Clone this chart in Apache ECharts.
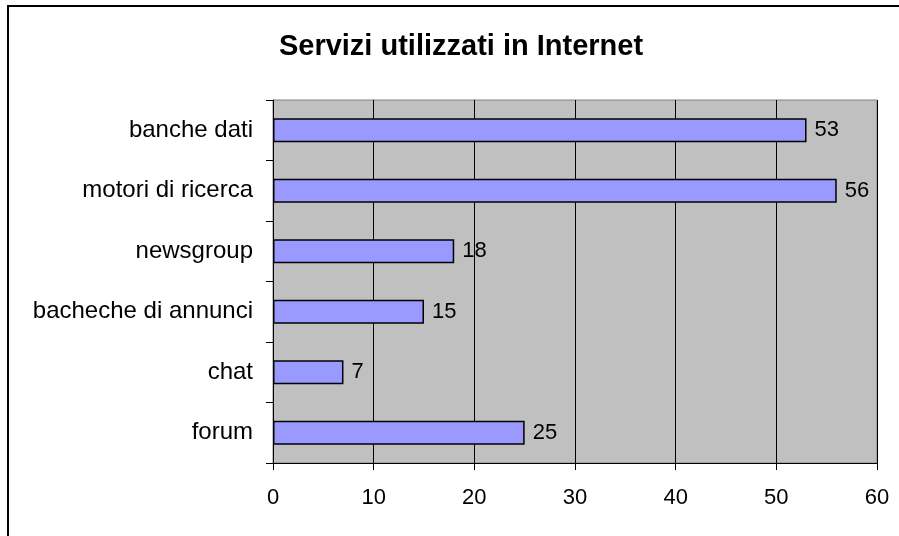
<!DOCTYPE html>
<html>
<head>
<meta charset="utf-8">
<script src="https://cdn.jsdelivr.net/npm/echarts@6/dist/echarts.min.js"></script>
<style>
  html, body { margin: 0; padding: 0; background: #fff; }
  #main { width: 899px; height: 536px; }
</style>
</head>
<body>
<div id="main"></div>
<script>
// dati del grafico
var categories = ['banche dati', 'motori di ricerca', 'newsgroup', 'bacheche di annunci', 'chat', 'forum'];
var values = [53, 56, 18, 15, 7, 25];
var xTicks = [0, 10, 20, 30, 40, 50, 60];

var myChart = echarts.init(document.getElementById('main'));
var font = '"Liberation Sans", Arial, sans-serif';

myChart.setOption({
    backgroundColor: '#fff',
    animation: false,
    title: {
        text: 'Servizi utilizzati in Internet',
        left: 456,
        top: 27,
        textAlign: 'center',
        textStyle: { fontFamily: font, fontSize: 29, fontWeight: 'bold', color: '#000' }
    },
    graphic: [{
        type: 'rect',
        shape: { x: 8, y: 6, width: 1000, height: 1000 },
        style: { fill: 'none', stroke: '#000', lineWidth: 2 },
        silent: true
    }],
    grid: {
        left: 273, right: 22, top: 100, bottom: 73,
        show: true,
        backgroundColor: '#C0C0C0',
        borderColor: '#808080',
        borderWidth: 1
    },
    xAxis: {
        type: 'value',
        min: xTicks[0],
        max: xTicks[xTicks.length - 1],
        interval: 10,
        axisLine: { show: true, lineStyle: { color: '#000', width: 1 } },
        axisTick: { show: true, length: 7, lineStyle: { color: '#000' } },
        splitLine: { show: true, lineStyle: { color: '#000', width: 1 } },
        axisLabel: { margin: 24, color: '#000', fontFamily: font, fontSize: 22 }
    },
    yAxis: {
        type: 'category',
        data: categories,
        inverse: true,
        axisLine: { show: true, lineStyle: { color: '#000', width: 1 } },
        axisTick: { show: true, length: 7, lineStyle: { color: '#000' } },
        axisLabel: { margin: 20, color: '#000', fontFamily: font, fontSize: 24 }
    },
    series: [{
        type: 'bar',
        data: values,
        barWidth: '40%',
        itemStyle: { color: '#9999FF', borderColor: '#000', borderWidth: 1.5 },
        label: {
            show: true,
            position: 'right',
            distance: 8,
            color: '#000',
            fontFamily: font,
            fontSize: 22
        }
    }]
});

window.onresize = function () {
    myChart.resize();
};
</script>
</body>
</html>
